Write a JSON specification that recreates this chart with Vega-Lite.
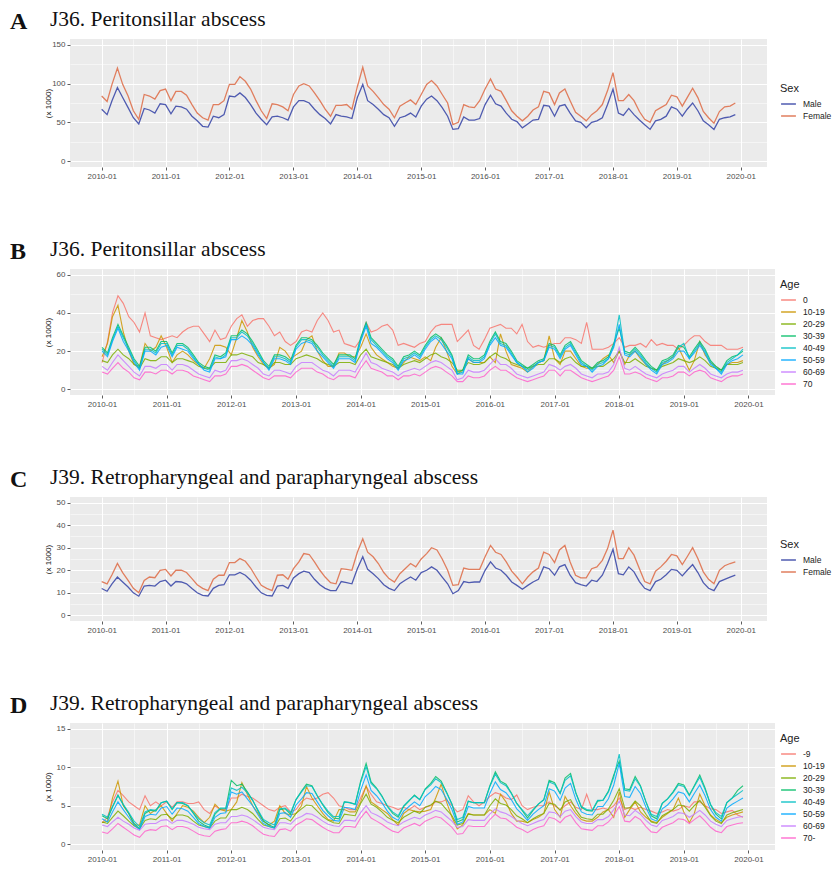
{
"$schema": "https://vega.github.io/schema/vega-lite/v6.json",
"background": "white",
"padding": {"left": 10, "top": 8, "right": 0, "bottom": 0},
"config": {
 "view": {"fill": "#EBEBEB", "stroke": null},
 "font": "Liberation Sans",
 "axis": {"domain": false, "gridColor": "#FFFFFF", "tickColor": "#333333", "tickSize": 3, "tickWidth": 0.8, "labelColor": "#4D4D4D", "labelFontSize": 8, "labelFont": "Liberation Sans", "labelPadding": 2, "titleFontWeight": "normal", "titleFontSize": 8, "titleColor": "#222222", "titleFont": "Liberation Sans"},
 "legend": {"orient": "none", "titleFontSize": 11, "titleFontWeight": "normal", "titleColor": "#222222", "titleFont": "Liberation Sans", "labelFont": "Liberation Sans", "labelFontSize": 8.5, "labelColor": "#222222", "symbolType": "stroke", "symbolStrokeWidth": 1.5, "symbolSize": 220, "clipHeight": 12, "rowPadding": 0, "titlePadding": 4, "labelOffset": 6},
 "title": {"font": "Liberation Serif", "fontWeight": "normal", "fontSize": 21.5, "color": "#111111", "anchor": "start"}
},
"resolve": {"scale": {"color": "independent"}, "legend": {"color": "independent"}},
"datasets": {
 "A": [
  {"d":"2010-01","Male":67,"Female":84},{"d":"2010-02","Male":60,"Female":77},{"d":"2010-03","Male":78,"Female":99},{"d":"2010-04","Male":95,"Female":120},{"d":"2010-05","Male":82,"Female":99},{"d":"2010-06","Male":69,"Female":84},{"d":"2010-07","Male":56,"Female":65},{"d":"2010-08","Male":48,"Female":54},{"d":"2010-09","Male":68,"Female":86},{"d":"2010-10","Male":66,"Female":84},{"d":"2010-11","Male":62,"Female":80},{"d":"2010-12","Male":74,"Female":91},
  {"d":"2011-01","Male":73,"Female":93},{"d":"2011-02","Male":61,"Female":78},{"d":"2011-03","Male":71,"Female":90},{"d":"2011-04","Male":70,"Female":90},{"d":"2011-05","Male":67,"Female":85},{"d":"2011-06","Male":58,"Female":73},{"d":"2011-07","Male":52,"Female":62},{"d":"2011-08","Male":45,"Female":56},{"d":"2011-09","Male":44,"Female":53},{"d":"2011-10","Male":58,"Female":73},{"d":"2011-11","Male":56,"Female":73},{"d":"2011-12","Male":60,"Female":78},
  {"d":"2012-01","Male":84,"Female":99},{"d":"2012-02","Male":83,"Female":99},{"d":"2012-03","Male":88,"Female":109},{"d":"2012-04","Male":82,"Female":103},{"d":"2012-05","Male":73,"Female":93},{"d":"2012-06","Male":62,"Female":78},{"d":"2012-07","Male":54,"Female":65},{"d":"2012-08","Male":47,"Female":55},{"d":"2012-09","Male":57,"Female":74},{"d":"2012-10","Male":58,"Female":73},{"d":"2012-11","Male":56,"Female":70},{"d":"2012-12","Male":53,"Female":65},
  {"d":"2013-01","Male":70,"Female":86},{"d":"2013-02","Male":78,"Female":97},{"d":"2013-03","Male":78,"Female":100},{"d":"2013-04","Male":75,"Female":97},{"d":"2013-05","Male":67,"Female":88},{"d":"2013-06","Male":60,"Female":78},{"d":"2013-07","Male":55,"Female":67},{"d":"2013-08","Male":48,"Female":58},{"d":"2013-09","Male":60,"Female":72},{"d":"2013-10","Male":58,"Female":72},{"d":"2013-11","Male":57,"Female":73},{"d":"2013-12","Male":55,"Female":67},
  {"d":"2014-01","Male":82,"Female":96},{"d":"2014-02","Male":99,"Female":121},{"d":"2014-03","Male":78,"Female":97},{"d":"2014-04","Male":73,"Female":90},{"d":"2014-05","Male":67,"Female":82},{"d":"2014-06","Male":60,"Female":73},{"d":"2014-07","Male":56,"Female":67},{"d":"2014-08","Male":45,"Female":56},{"d":"2014-09","Male":56,"Female":71},{"d":"2014-10","Male":58,"Female":75},{"d":"2014-11","Male":62,"Female":79},{"d":"2014-12","Male":57,"Female":73},
  {"d":"2015-01","Male":71,"Female":86},{"d":"2015-02","Male":80,"Female":99},{"d":"2015-03","Male":84,"Female":104},{"d":"2015-04","Male":78,"Female":97},{"d":"2015-05","Male":69,"Female":86},{"d":"2015-06","Male":58,"Female":75},{"d":"2015-07","Male":41,"Female":47},{"d":"2015-08","Male":42,"Female":50},{"d":"2015-09","Male":57,"Female":73},{"d":"2015-10","Male":53,"Female":70},{"d":"2015-11","Male":53,"Female":69},{"d":"2015-12","Male":55,"Female":78},
  {"d":"2016-01","Male":73,"Female":93},{"d":"2016-02","Male":85,"Female":106},{"d":"2016-03","Male":74,"Female":93},{"d":"2016-04","Male":71,"Female":90},{"d":"2016-05","Male":62,"Female":78},{"d":"2016-06","Male":54,"Female":65},{"d":"2016-07","Male":51,"Female":58},{"d":"2016-08","Male":43,"Female":52},{"d":"2016-09","Male":48,"Female":58},{"d":"2016-10","Male":53,"Female":66},{"d":"2016-11","Male":54,"Female":70},{"d":"2016-12","Male":72,"Female":90},
  {"d":"2017-01","Male":71,"Female":88},{"d":"2017-02","Male":58,"Female":73},{"d":"2017-03","Male":71,"Female":88},{"d":"2017-04","Male":73,"Female":93},{"d":"2017-05","Male":62,"Female":78},{"d":"2017-06","Male":52,"Female":63},{"d":"2017-07","Male":50,"Female":58},{"d":"2017-08","Male":43,"Female":52},{"d":"2017-09","Male":50,"Female":60},{"d":"2017-10","Male":52,"Female":65},{"d":"2017-11","Male":56,"Female":73},{"d":"2017-12","Male":73,"Female":91},
  {"d":"2018-01","Male":93,"Female":114},{"d":"2018-02","Male":62,"Female":78},{"d":"2018-03","Male":59,"Female":78},{"d":"2018-04","Male":68,"Female":86},{"d":"2018-05","Male":60,"Female":78},{"d":"2018-06","Male":53,"Female":64},{"d":"2018-07","Male":47,"Female":54},{"d":"2018-08","Male":41,"Female":50},{"d":"2018-09","Male":52,"Female":65},{"d":"2018-10","Male":54,"Female":69},{"d":"2018-11","Male":58,"Female":73},{"d":"2018-12","Male":70,"Female":85},
  {"d":"2019-01","Male":67,"Female":83},{"d":"2019-02","Male":58,"Female":71},{"d":"2019-03","Male":67,"Female":82},{"d":"2019-04","Male":75,"Female":94},{"d":"2019-05","Male":65,"Female":82},{"d":"2019-06","Male":52,"Female":64},{"d":"2019-07","Male":47,"Female":56},{"d":"2019-08","Male":41,"Female":49},{"d":"2019-09","Male":54,"Female":64},{"d":"2019-10","Male":56,"Female":70},{"d":"2019-11","Male":57,"Female":71},{"d":"2019-12","Male":60,"Female":75}
 ],
 "C": [
  {"d":"2010-01","Male":11.9,"Female":15},{"d":"2010-02","Male":10.7,"Female":14},{"d":"2010-03","Male":14,"Female":18},{"d":"2010-04","Male":17,"Female":23},{"d":"2010-05","Male":14.8,"Female":19},{"d":"2010-06","Male":12.6,"Female":15.5},{"d":"2010-07","Male":10,"Female":12},{"d":"2010-08","Male":8.5,"Female":10},{"d":"2010-09","Male":13,"Female":15.5},{"d":"2010-10","Male":13.3,"Female":17},{"d":"2010-11","Male":13,"Female":16.7},{"d":"2010-12","Male":15,"Female":20},
  {"d":"2011-01","Male":15.6,"Female":20.4},{"d":"2011-02","Male":13,"Female":17.5},{"d":"2011-03","Male":15,"Female":20},{"d":"2011-04","Male":14.8,"Female":20},{"d":"2011-05","Male":14,"Female":19},{"d":"2011-06","Male":11.9,"Female":16.3},{"d":"2011-07","Male":10,"Female":13.6},{"d":"2011-08","Male":8.9,"Female":12},{"d":"2011-09","Male":8.6,"Female":11},{"d":"2011-10","Male":12,"Female":16},{"d":"2011-11","Male":13.3,"Female":17.8},{"d":"2011-12","Male":13.6,"Female":17.8},
  {"d":"2012-01","Male":18,"Female":23.4},{"d":"2012-02","Male":18,"Female":23.4},{"d":"2012-03","Male":19,"Female":25.2},{"d":"2012-04","Male":17.8,"Female":24},{"d":"2012-05","Male":15.6,"Female":21},{"d":"2012-06","Male":12.6,"Female":17},{"d":"2012-07","Male":10,"Female":13.3},{"d":"2012-08","Male":8.9,"Female":12},{"d":"2012-09","Male":8.6,"Female":11},{"d":"2012-10","Male":13,"Female":17.8},{"d":"2012-11","Male":13.3,"Female":18},{"d":"2012-12","Male":12,"Female":16},
  {"d":"2013-01","Male":16.6,"Female":20.7},{"d":"2013-02","Male":18.5,"Female":23.7},{"d":"2013-03","Male":19.6,"Female":27.4},{"d":"2013-04","Male":19,"Female":27},{"d":"2013-05","Male":16,"Female":23.7},{"d":"2013-06","Male":13.6,"Female":20},{"d":"2013-07","Male":12,"Female":17},{"d":"2013-08","Male":11,"Female":14.5},{"d":"2013-09","Male":11,"Female":14},{"d":"2013-10","Male":15,"Female":20.7},{"d":"2013-11","Male":14.5,"Female":20.4},{"d":"2013-12","Male":14,"Female":20},
  {"d":"2014-01","Male":20.7,"Female":28},{"d":"2014-02","Male":26,"Female":34},{"d":"2014-03","Male":20.4,"Female":28},{"d":"2014-04","Male":18.5,"Female":26},{"d":"2014-05","Male":16.3,"Female":23},{"d":"2014-06","Male":13.6,"Female":19},{"d":"2014-07","Male":12,"Female":16.3},{"d":"2014-08","Male":11,"Female":14.8},{"d":"2014-09","Male":14,"Female":18.5},{"d":"2014-10","Male":15.6,"Female":20.7},{"d":"2014-11","Male":17,"Female":23},{"d":"2014-12","Male":15.6,"Female":21.5},
  {"d":"2015-01","Male":19,"Female":25},{"d":"2015-02","Male":20,"Female":27.4},{"d":"2015-03","Male":21.5,"Female":30},{"d":"2015-04","Male":20,"Female":29},{"d":"2015-05","Male":17,"Female":25},{"d":"2015-06","Male":14,"Female":20},{"d":"2015-07","Male":9.6,"Female":13.3},{"d":"2015-08","Male":11,"Female":13.6},{"d":"2015-09","Male":15,"Female":21},{"d":"2015-10","Male":14.5,"Female":20.4},{"d":"2015-11","Male":14.8,"Female":20.4},{"d":"2015-12","Male":14.8,"Female":20.4},
  {"d":"2016-01","Male":20,"Female":26},{"d":"2016-02","Male":23.7,"Female":31},{"d":"2016-03","Male":21,"Female":28},{"d":"2016-04","Male":20,"Female":27},{"d":"2016-05","Male":17.8,"Female":23.7},{"d":"2016-06","Male":14.8,"Female":19.6},{"d":"2016-07","Male":13.3,"Female":17},{"d":"2016-08","Male":11.6,"Female":14},{"d":"2016-09","Male":13.3,"Female":17},{"d":"2016-10","Male":14.8,"Female":19.3},{"d":"2016-11","Male":16,"Female":21},{"d":"2016-12","Male":21.5,"Female":28},
  {"d":"2017-01","Male":20.7,"Female":27},{"d":"2017-02","Male":17.8,"Female":23.4},{"d":"2017-03","Male":21.5,"Female":29},{"d":"2017-04","Male":22.5,"Female":31},{"d":"2017-05","Male":17.8,"Female":23.7},{"d":"2017-06","Male":14.5,"Female":17.8},{"d":"2017-07","Male":13.6,"Female":16.6},{"d":"2017-08","Male":13,"Female":16.6},{"d":"2017-09","Male":15.6,"Female":20.7},{"d":"2017-10","Male":15,"Female":21.5},{"d":"2017-11","Male":17.8,"Female":24.4},{"d":"2017-12","Male":23,"Female":29.6},
  {"d":"2018-01","Male":29.3,"Female":37.8},{"d":"2018-02","Male":18.5,"Female":25.2},{"d":"2018-03","Male":18,"Female":25.2},{"d":"2018-04","Male":21.5,"Female":30},{"d":"2018-05","Male":19.3,"Female":26.7},{"d":"2018-06","Male":15,"Female":20.7},{"d":"2018-07","Male":12,"Female":15},{"d":"2018-08","Male":11,"Female":14},{"d":"2018-09","Male":15,"Female":19.6},{"d":"2018-10","Male":16,"Female":21.5},{"d":"2018-11","Male":18,"Female":24},{"d":"2018-12","Male":20.4,"Female":27},
  {"d":"2019-01","Male":20,"Female":26.4},{"d":"2019-02","Male":17.5,"Female":22.5},{"d":"2019-03","Male":20,"Female":26},{"d":"2019-04","Male":22.5,"Female":30},{"d":"2019-05","Male":19,"Female":25.2},{"d":"2019-06","Male":14.5,"Female":19.3},{"d":"2019-07","Male":12,"Female":16},{"d":"2019-08","Male":11,"Female":14},{"d":"2019-09","Male":15,"Female":20},{"d":"2019-10","Male":16,"Female":22},{"d":"2019-11","Male":17,"Female":23},{"d":"2019-12","Male":17.8,"Female":23.7}
 ],
 "B": [
  {"d":"2010-01","0":14,"10-19":17,"20-29":15,"30-39":22,"40-49":21,"50-59":20,"60-69":12,"70":9},
  {"d":"2010-02","0":25,"10-19":24,"20-29":14,"30-39":19,"40-49":18,"50-59":17,"60-69":10,"70":8},
  {"d":"2010-03","0":40,"10-19":38,"20-29":18,"30-39":27,"40-49":26,"50-59":25,"60-69":14,"70":11},
  {"d":"2010-04","0":49,"10-19":44,"20-29":21,"30-39":34,"40-49":33,"50-59":32,"60-69":18,"70":14},
  {"d":"2010-05","0":45,"10-19":30,"20-29":18,"30-39":28,"40-49":27,"50-59":25,"60-69":15,"70":11},
  {"d":"2010-06","0":38,"10-19":20,"20-29":16,"30-39":22,"40-49":21,"50-59":20,"60-69":12,"70":9},
  {"d":"2010-07","0":35,"10-19":13,"20-29":13,"30-39":16,"40-49":15,"50-59":14,"60-69":9,"70":6},
  {"d":"2010-08","0":30,"10-19":12,"20-29":11,"30-39":12,"40-49":11,"50-59":10,"60-69":7,"70":5},
  {"d":"2010-09","0":40,"10-19":24,"20-29":16,"30-39":22,"40-49":21,"50-59":20,"60-69":12,"70":9},
  {"d":"2010-10","0":28,"10-19":20,"20-29":15,"30-39":22,"40-49":21,"50-59":20,"60-69":12,"70":9},
  {"d":"2010-11","0":27,"10-19":22,"20-29":15,"30-39":20,"40-49":19,"50-59":18,"60-69":11,"70":8},
  {"d":"2010-12","0":26,"10-19":28,"20-29":17,"30-39":25,"40-49":24,"50-59":22,"60-69":13,"70":10},
  {"d":"2011-01","0":27,"10-19":22,"20-29":17,"30-39":25,"40-49":24,"50-59":23,"60-69":13,"70":10},
  {"d":"2011-02","0":28,"10-19":14,"20-29":14,"30-39":19,"40-49":18,"50-59":17,"60-69":10,"70":8},
  {"d":"2011-03","0":27,"10-19":18,"20-29":16,"30-39":24,"40-49":23,"50-59":22,"60-69":13,"70":10},
  {"d":"2011-04","0":30,"10-19":20,"20-29":16,"30-39":24,"40-49":23,"50-59":21,"60-69":13,"70":10},
  {"d":"2011-05","0":32,"10-19":18,"20-29":15,"30-39":22,"40-49":21,"50-59":20,"60-69":12,"70":9},
  {"d":"2011-06","0":33,"10-19":15,"20-29":14,"30-39":18,"40-49":17,"50-59":16,"60-69":10,"70":7},
  {"d":"2011-07","0":33,"10-19":13,"20-29":12,"30-39":14,"40-49":13,"50-59":13,"60-69":8,"70":6},
  {"d":"2011-08","0":29,"10-19":11,"20-29":11,"30-39":12,"40-49":11,"50-59":10,"60-69":7,"70":5},
  {"d":"2011-09","0":25,"10-19":16,"20-29":11,"30-39":11,"40-49":10,"50-59":9,"60-69":6,"70":4},
  {"d":"2011-10","0":31,"10-19":23,"20-29":14,"30-39":18,"40-49":17,"50-59":16,"60-69":10,"70":7},
  {"d":"2011-11","0":26,"10-19":23,"20-29":14,"30-39":17,"40-49":16,"50-59":16,"60-69":9,"70":7},
  {"d":"2011-12","0":27,"10-19":22,"20-29":14,"30-39":19,"40-49":18,"50-59":17,"60-69":10,"70":8},
  {"d":"2012-01","0":33,"10-19":18,"20-29":18,"30-39":28,"40-49":27,"50-59":26,"60-69":15,"70":12},
  {"d":"2012-02","0":37,"10-19":27,"20-29":18,"30-39":28,"40-49":27,"50-59":26,"60-69":15,"70":12},
  {"d":"2012-03","0":39,"10-19":36,"20-29":19,"30-39":31,"40-49":30,"50-59":28,"60-69":16,"70":13},
  {"d":"2012-04","0":33,"10-19":30,"20-29":18,"30-39":29,"40-49":28,"50-59":26,"60-69":15,"70":12},
  {"d":"2012-05","0":36,"10-19":22,"20-29":17,"30-39":25,"40-49":24,"50-59":23,"60-69":13,"70":10},
  {"d":"2012-06","0":37,"10-19":17,"20-29":14,"30-39":20,"40-49":19,"50-59":18,"60-69":11,"70":8},
  {"d":"2012-07","0":37,"10-19":13,"20-29":13,"30-39":15,"40-49":14,"50-59":14,"60-69":8,"70":6},
  {"d":"2012-08","0":33,"10-19":11,"20-29":11,"30-39":12,"40-49":11,"50-59":10,"60-69":7,"70":5},
  {"d":"2012-09","0":28,"10-19":13,"20-29":14,"30-39":18,"40-49":17,"50-59":16,"60-69":10,"70":7},
  {"d":"2012-10","0":30,"10-19":22,"20-29":14,"30-39":18,"40-49":17,"50-59":16,"60-69":10,"70":7},
  {"d":"2012-11","0":25,"10-19":20,"20-29":13,"30-39":17,"40-49":16,"50-59":15,"60-69":9,"70":7},
  {"d":"2012-12","0":23,"10-19":16,"20-29":13,"30-39":15,"40-49":14,"50-59":13,"60-69":8,"70":6},
  {"d":"2013-01","0":25,"10-19":18,"20-29":16,"30-39":23,"40-49":22,"50-59":21,"60-69":12,"70":9},
  {"d":"2013-02","0":30,"10-19":20,"20-29":17,"30-39":27,"40-49":26,"50-59":24,"60-69":14,"70":11},
  {"d":"2013-03","0":31,"10-19":26,"20-29":18,"30-39":27,"40-49":26,"50-59":25,"60-69":14,"70":11},
  {"d":"2013-04","0":30,"10-19":28,"20-29":17,"30-39":26,"40-49":25,"50-59":24,"60-69":14,"70":11},
  {"d":"2013-05","0":36,"10-19":20,"20-29":16,"30-39":23,"40-49":22,"50-59":20,"60-69":12,"70":9},
  {"d":"2013-06","0":40,"10-19":15,"20-29":14,"30-39":19,"40-49":18,"50-59":17,"60-69":10,"70":8},
  {"d":"2013-07","0":36,"10-19":12,"20-29":13,"30-39":16,"40-49":15,"50-59":14,"60-69":9,"70":6},
  {"d":"2013-08","0":30,"10-19":12,"20-29":12,"30-39":13,"40-49":12,"50-59":11,"60-69":7,"70":5},
  {"d":"2013-09","0":31,"10-19":19,"20-29":14,"30-39":18,"40-49":17,"50-59":16,"60-69":10,"70":7},
  {"d":"2013-10","0":24,"10-19":19,"20-29":14,"30-39":18,"40-49":17,"50-59":16,"60-69":10,"70":7},
  {"d":"2013-11","0":23,"10-19":17,"20-29":14,"30-39":18,"40-49":17,"50-59":16,"60-69":10,"70":7},
  {"d":"2013-12","0":22,"10-19":17,"20-29":13,"30-39":16,"40-49":15,"50-59":14,"60-69":9,"70":6},
  {"d":"2014-01","0":26,"10-19":22,"20-29":18,"30-39":27,"40-49":26,"50-59":25,"60-69":14,"70":11},
  {"d":"2014-02","0":35,"10-19":29,"20-29":21,"30-39":35,"40-49":34,"50-59":33,"60-69":19,"70":15},
  {"d":"2014-03","0":30,"10-19":22,"20-29":17,"30-39":27,"40-49":26,"50-59":24,"60-69":14,"70":11},
  {"d":"2014-04","0":31,"10-19":18,"20-29":16,"30-39":24,"40-49":23,"50-59":22,"60-69":13,"70":10},
  {"d":"2014-05","0":33,"10-19":16,"20-29":15,"30-39":21,"40-49":20,"50-59":19,"60-69":11,"70":9},
  {"d":"2014-06","0":34,"10-19":14,"20-29":14,"30-39":18,"40-49":17,"50-59":16,"60-69":10,"70":7},
  {"d":"2014-07","0":31,"10-19":12,"20-29":13,"30-39":16,"40-49":15,"50-59":14,"60-69":9,"70":7},
  {"d":"2014-08","0":23,"10-19":11,"20-29":11,"30-39":12,"40-49":11,"50-59":10,"60-69":7,"70":5},
  {"d":"2014-09","0":24,"10-19":14,"20-29":13,"30-39":17,"40-49":16,"50-59":15,"60-69":9,"70":7},
  {"d":"2014-10","0":23,"10-19":17,"20-29":14,"30-39":18,"40-49":17,"50-59":16,"60-69":10,"70":7},
  {"d":"2014-11","0":22,"10-19":16,"20-29":15,"30-39":20,"40-49":19,"50-59":18,"60-69":11,"70":8},
  {"d":"2014-12","0":24,"10-19":15,"20-29":14,"30-39":18,"40-49":17,"50-59":16,"60-69":10,"70":7},
  {"d":"2015-01","0":25,"10-19":17,"20-29":16,"30-39":23,"40-49":22,"50-59":21,"60-69":12,"70":9},
  {"d":"2015-02","0":30,"10-19":15,"20-29":18,"30-39":27,"40-49":26,"50-59":25,"60-69":14,"70":11},
  {"d":"2015-03","0":33,"10-19":22,"20-29":19,"30-39":29,"40-49":28,"50-59":27,"60-69":15,"70":12},
  {"d":"2015-04","0":34,"10-19":27,"20-29":17,"30-39":27,"40-49":26,"50-59":24,"60-69":14,"70":11},
  {"d":"2015-05","0":34,"10-19":20,"20-29":16,"30-39":23,"40-49":22,"50-59":20,"60-69":12,"70":9},
  {"d":"2015-06","0":34,"10-19":12,"20-29":14,"30-39":18,"40-49":17,"50-59":16,"60-69":10,"70":7},
  {"d":"2015-07","0":25,"10-19":8,"20-29":10,"30-39":9,"40-49":8,"50-59":8,"60-69":5,"70":4},
  {"d":"2015-08","0":28,"10-19":10,"20-29":10,"30-39":10,"40-49":9,"50-59":8,"60-69":6,"70":4},
  {"d":"2015-09","0":31,"10-19":16,"20-29":14,"30-39":18,"40-49":17,"50-59":16,"60-69":10,"70":7},
  {"d":"2015-10","0":23,"10-19":14,"20-29":13,"30-39":16,"40-49":15,"50-59":14,"60-69":9,"70":6},
  {"d":"2015-11","0":21,"10-19":14,"20-29":13,"30-39":16,"40-49":15,"50-59":14,"60-69":9,"70":6},
  {"d":"2015-12","0":26,"10-19":14,"20-29":14,"30-39":18,"40-49":17,"50-59":16,"60-69":10,"70":7},
  {"d":"2016-01","0":32,"10-19":17,"20-29":17,"30-39":25,"40-49":24,"50-59":23,"60-69":13,"70":10},
  {"d":"2016-02","0":33,"10-19":14,"20-29":19,"30-39":30,"40-49":29,"50-59":27,"60-69":16,"70":12},
  {"d":"2016-03","0":34,"10-19":29,"20-29":17,"30-39":25,"40-49":24,"50-59":23,"60-69":13,"70":10},
  {"d":"2016-04","0":32,"10-19":20,"20-29":16,"30-39":24,"40-49":23,"50-59":22,"60-69":13,"70":10},
  {"d":"2016-05","0":32,"10-19":13,"20-29":14,"30-39":20,"40-49":19,"50-59":18,"60-69":11,"70":8},
  {"d":"2016-06","0":29,"10-19":12,"20-29":13,"30-39":15,"40-49":14,"50-59":14,"60-69":8,"70":6},
  {"d":"2016-07","0":34,"10-19":11,"20-29":12,"30-39":13,"40-49":12,"50-59":12,"60-69":7,"70":5},
  {"d":"2016-08","0":25,"10-19":9,"20-29":11,"30-39":11,"40-49":10,"50-59":9,"60-69":6,"70":4},
  {"d":"2016-09","0":22,"10-19":12,"20-29":12,"30-39":13,"40-49":12,"50-59":11,"60-69":7,"70":5},
  {"d":"2016-10","0":23,"10-19":14,"20-29":13,"30-39":15,"40-49":14,"50-59":14,"60-69":8,"70":6},
  {"d":"2016-11","0":22,"10-19":15,"20-29":13,"30-39":16,"40-49":15,"50-59":15,"60-69":9,"70":7},
  {"d":"2016-12","0":23,"10-19":28,"20-29":16,"30-39":24,"40-49":23,"50-59":22,"60-69":13,"70":10},
  {"d":"2017-01","0":24,"10-19":16,"20-29":16,"30-39":23,"40-49":22,"50-59":21,"60-69":12,"70":10},
  {"d":"2017-02","0":24,"10-19":13,"20-29":14,"30-39":18,"40-49":17,"50-59":16,"60-69":10,"70":7},
  {"d":"2017-03","0":27,"10-19":20,"20-29":16,"30-39":23,"40-49":22,"50-59":21,"60-69":12,"70":10},
  {"d":"2017-04","0":27,"10-19":20,"20-29":17,"30-39":25,"40-49":24,"50-59":23,"60-69":13,"70":10},
  {"d":"2017-05","0":26,"10-19":16,"20-29":14,"30-39":20,"40-49":19,"50-59":18,"60-69":11,"70":8},
  {"d":"2017-06","0":24,"10-19":12,"20-29":12,"30-39":15,"40-49":14,"50-59":13,"60-69":8,"70":6},
  {"d":"2017-07","0":35,"10-19":11,"20-29":12,"30-39":13,"40-49":12,"50-59":12,"60-69":7,"70":5},
  {"d":"2017-08","0":21,"10-19":11,"20-29":11,"30-39":11,"40-49":10,"50-59":9,"60-69":6,"70":4},
  {"d":"2017-09","0":21,"10-19":13,"20-29":12,"30-39":14,"40-49":13,"50-59":12,"60-69":8,"70":5},
  {"d":"2017-10","0":21,"10-19":16,"20-29":12,"30-39":15,"40-49":14,"50-59":13,"60-69":8,"70":6},
  {"d":"2017-11","0":22,"10-19":18,"20-29":14,"30-39":17,"40-49":16,"50-59":16,"60-69":9,"70":7},
  {"d":"2017-12","0":24,"10-19":14,"20-29":16,"30-39":24,"40-49":23,"50-59":22,"60-69":13,"70":10},
  {"d":"2018-01","0":27,"10-19":20,"20-29":20,"30-39":32,"40-49":39,"50-59":34,"60-69":22,"70":17},
  {"d":"2018-02","0":22,"10-19":13,"20-29":14,"30-39":20,"40-49":19,"50-59":18,"60-69":11,"70":8},
  {"d":"2018-03","0":23,"10-19":18,"20-29":14,"30-39":19,"40-49":18,"50-59":17,"60-69":10,"70":8},
  {"d":"2018-04","0":23,"10-19":20,"20-29":16,"30-39":22,"40-49":21,"50-59":20,"60-69":12,"70":9},
  {"d":"2018-05","0":24,"10-19":16,"20-29":14,"30-39":19,"40-49":18,"50-59":17,"60-69":10,"70":8},
  {"d":"2018-06","0":22,"10-19":13,"20-29":12,"30-39":15,"40-49":14,"50-59":13,"60-69":8,"70":6},
  {"d":"2018-07","0":26,"10-19":11,"20-29":11,"30-39":12,"40-49":11,"50-59":10,"60-69":7,"70":5},
  {"d":"2018-08","0":23,"10-19":10,"20-29":10,"30-39":10,"40-49":9,"50-59":8,"60-69":6,"70":4},
  {"d":"2018-09","0":24,"10-19":13,"20-29":12,"30-39":15,"40-49":14,"50-59":13,"60-69":8,"70":6},
  {"d":"2018-10","0":23,"10-19":15,"20-29":13,"30-39":16,"40-49":15,"50-59":14,"60-69":9,"70":6},
  {"d":"2018-11","0":23,"10-19":17,"20-29":14,"30-39":18,"40-49":17,"50-59":16,"60-69":10,"70":7},
  {"d":"2018-12","0":21,"10-19":22,"20-29":16,"30-39":23,"40-49":22,"50-59":20,"60-69":12,"70":9},
  {"d":"2019-01","0":23,"10-19":16,"20-29":15,"30-39":22,"40-49":24,"50-59":20,"60-69":12,"70":9},
  {"d":"2019-02","0":26,"10-19":10,"20-29":14,"30-39":17,"40-49":16,"50-59":16,"60-69":9,"70":7},
  {"d":"2019-03","0":28,"10-19":15,"20-29":15,"30-39":21,"40-49":20,"50-59":19,"60-69":11,"70":9},
  {"d":"2019-04","0":28,"10-19":25,"20-29":17,"30-39":25,"40-49":24,"50-59":23,"60-69":13,"70":10},
  {"d":"2019-05","0":25,"10-19":18,"20-29":15,"30-39":21,"40-49":20,"50-59":19,"60-69":11,"70":9},
  {"d":"2019-06","0":23,"10-19":14,"20-29":12,"30-39":15,"40-49":14,"50-59":13,"60-69":8,"70":6},
  {"d":"2019-07","0":23,"10-19":12,"20-29":11,"30-39":12,"40-49":11,"50-59":11,"60-69":7,"70":5},
  {"d":"2019-08","0":23,"10-19":10,"20-29":10,"30-39":10,"40-49":9,"50-59":8,"60-69":6,"70":4},
  {"d":"2019-09","0":21,"10-19":13,"20-29":13,"30-39":15,"40-49":14,"50-59":13,"60-69":8,"70":6},
  {"d":"2019-10","0":21,"10-19":14,"20-29":13,"30-39":17,"40-49":16,"50-59":15,"60-69":9,"70":7},
  {"d":"2019-11","0":21,"10-19":14,"20-29":13,"30-39":18,"40-49":18,"50-59":16,"60-69":9,"70":7},
  {"d":"2019-12","0":22,"10-19":15,"20-29":14,"30-39":20,"40-49":21,"50-59":18,"60-69":10,"70":8}
 ],
 "D": [
  {"d":"2010-01","-9":2.8,"10-19":2.8,"20-29":2.9,"30-39":3.7,"40-49":3.9,"50-59":3.3,"60-69":2.5,"70-":1.6},
  {"d":"2010-02","-9":3.5,"10-19":3.0,"20-29":2.7,"30-39":3.3,"40-49":3.5,"50-59":2.9,"60-69":2.3,"70-":1.4},
  {"d":"2010-03","-9":5.5,"10-19":6.0,"20-29":3.5,"30-39":4.8,"40-49":4.9,"50-59":4.2,"60-69":2.9,"70-":2.0},
  {"d":"2010-04","-9":7.0,"10-19":8.2,"20-29":4.3,"30-39":6.4,"40-49":6.3,"50-59":5.5,"60-69":3.5,"70-":2.7},
  {"d":"2010-05","-9":6.3,"10-19":5.0,"20-29":3.7,"30-39":5.1,"40-49":5.2,"50-59":4.5,"60-69":3.0,"70-":2.2},
  {"d":"2010-06","-9":5.5,"10-19":4.0,"20-29":3.0,"30-39":4.0,"40-49":4.1,"50-59":3.5,"60-69":2.6,"70-":1.7},
  {"d":"2010-07","-9":5.0,"10-19":2.5,"20-29":2.4,"30-39":2.7,"40-49":3.0,"50-59":2.5,"60-69":2.1,"70-":1.2},
  {"d":"2010-08","-9":4.5,"10-19":2.5,"20-29":2.0,"30-39":2.0,"40-49":2.3,"50-59":1.9,"60-69":1.8,"70-":0.9},
  {"d":"2010-09","-9":6.3,"10-19":5.0,"20-29":3.1,"30-39":4.0,"40-49":4.2,"50-59":3.6,"60-69":2.6,"70-":1.7},
  {"d":"2010-10","-9":5.0,"10-19":4.0,"20-29":3.3,"30-39":4.4,"40-49":4.5,"50-59":3.9,"60-69":2.7,"70-":1.9},
  {"d":"2010-11","-9":5.5,"10-19":4.5,"20-29":3.2,"30-39":4.3,"40-49":4.4,"50-59":3.8,"60-69":2.7,"70-":1.8},
  {"d":"2010-12","-9":5.0,"10-19":5.0,"20-29":3.8,"30-39":5.4,"40-49":5.4,"50-59":4.7,"60-69":3.1,"70-":2.3},
  {"d":"2011-01","-9":5.5,"10-19":4.0,"20-29":3.9,"30-39":5.6,"40-49":5.6,"50-59":4.9,"60-69":3.2,"70-":2.4},
  {"d":"2011-02","-9":4.8,"10-19":3.0,"20-29":3.3,"30-39":4.5,"40-49":4.6,"50-59":3.9,"60-69":2.7,"70-":1.9},
  {"d":"2011-03","-9":5.5,"10-19":4.0,"20-29":3.8,"30-39":5.4,"40-49":5.4,"50-59":4.7,"60-69":3.1,"70-":2.3},
  {"d":"2011-04","-9":5.5,"10-19":5.0,"20-29":3.8,"30-39":5.3,"40-49":5.4,"50-59":4.6,"60-69":3.1,"70-":2.3},
  {"d":"2011-05","-9":5.3,"10-19":4.8,"20-29":3.6,"30-39":5.0,"40-49":5.0,"50-59":4.3,"60-69":2.9,"70-":2.1},
  {"d":"2011-06","-9":5.3,"10-19":4.3,"20-29":3.0,"30-39":4.0,"40-49":4.1,"50-59":3.5,"60-69":2.6,"70-":1.7},
  {"d":"2011-07","-9":5.5,"10-19":3.5,"20-29":2.5,"30-39":3.0,"40-49":3.3,"50-59":2.7,"60-69":2.2,"70-":1.3},
  {"d":"2011-08","-9":4.5,"10-19":2.8,"20-29":2.3,"30-39":2.5,"40-49":2.8,"50-59":2.3,"60-69":2.0,"70-":1.1},
  {"d":"2011-09","-9":4.0,"10-19":3.5,"20-29":2.1,"30-39":2.2,"40-49":2.5,"50-59":2.1,"60-69":1.9,"70-":1.0},
  {"d":"2011-10","-9":5.0,"10-19":5.2,"20-29":3.0,"30-39":3.9,"40-49":4.1,"50-59":3.5,"60-69":2.6,"70-":1.7},
  {"d":"2011-11","-9":4.5,"10-19":4.5,"20-29":3.4,"30-39":4.6,"40-49":4.7,"50-59":4.0,"60-69":2.8,"70-":1.9},
  {"d":"2011-12","-9":4.5,"10-19":4.3,"20-29":3.4,"30-39":4.6,"40-49":4.7,"50-59":4.1,"60-69":2.8,"70-":2.0},
  {"d":"2012-01","-9":6.0,"10-19":4.5,"20-29":4.5,"30-39":8.3,"40-49":7.3,"50-59":6.8,"60-69":3.6,"70-":2.8},
  {"d":"2012-02","-9":6.0,"10-19":5.5,"20-29":4.5,"30-39":7.6,"40-49":7.0,"50-59":6.5,"60-69":3.6,"70-":2.8},
  {"d":"2012-03","-9":6.5,"10-19":8.0,"20-29":4.8,"30-39":7.8,"40-49":7.4,"50-59":6.8,"60-69":3.8,"70-":3.0},
  {"d":"2012-04","-9":6.2,"10-19":6.5,"20-29":4.5,"30-39":6.8,"40-49":6.7,"50-59":5.9,"60-69":3.6,"70-":2.8},
  {"d":"2012-05","-9":6.0,"10-19":5.0,"20-29":4.0,"30-39":5.7,"40-49":5.7,"50-59":5.0,"60-69":3.2,"70-":2.4},
  {"d":"2012-06","-9":5.5,"10-19":4.0,"20-29":3.2,"30-39":4.3,"40-49":4.4,"50-59":3.8,"60-69":2.7,"70-":1.8},
  {"d":"2012-07","-9":5.0,"10-19":3.0,"20-29":2.5,"30-39":3.0,"40-49":3.2,"50-59":2.7,"60-69":2.2,"70-":1.3},
  {"d":"2012-08","-9":4.5,"10-19":2.5,"20-29":2.3,"30-39":2.5,"40-49":2.8,"50-59":2.3,"60-69":2.0,"70-":1.1},
  {"d":"2012-09","-9":4.3,"10-19":3.0,"20-29":2.1,"30-39":2.2,"40-49":2.5,"50-59":2.1,"60-69":1.9,"70-":1.0},
  {"d":"2012-10","-9":4.8,"10-19":5.0,"20-29":3.3,"30-39":4.5,"40-49":4.6,"50-59":4.0,"60-69":2.8,"70-":1.9},
  {"d":"2012-11","-9":5.0,"10-19":4.0,"20-29":3.4,"30-39":4.6,"40-49":4.7,"50-59":4.1,"60-69":2.8,"70-":2.0},
  {"d":"2012-12","-9":4.2,"10-19":3.8,"20-29":3.0,"30-39":3.9,"40-49":4.1,"50-59":3.5,"60-69":2.6,"70-":1.7},
  {"d":"2013-01","-9":4.5,"10-19":4.0,"20-29":4.0,"30-39":5.8,"40-49":5.8,"50-59":5.1,"60-69":3.3,"70-":2.5},
  {"d":"2013-02","-9":5.5,"10-19":5.0,"20-29":4.6,"30-39":6.9,"40-49":6.8,"50-59":5.9,"60-69":3.6,"70-":2.9},
  {"d":"2013-03","-9":6.0,"10-19":7.5,"20-29":5.1,"30-39":7.8,"40-49":7.6,"50-59":6.7,"60-69":4.0,"70-":3.3},
  {"d":"2013-04","-9":5.8,"10-19":6.0,"20-29":5.0,"30-39":7.6,"40-49":7.5,"50-59":6.6,"60-69":3.9,"70-":3.2},
  {"d":"2013-05","-9":6.0,"10-19":5.0,"20-29":4.3,"30-39":6.3,"40-49":6.3,"50-59":5.5,"60-69":3.5,"70-":2.7},
  {"d":"2013-06","-9":6.5,"10-19":4.0,"20-29":3.6,"30-39":5.1,"40-49":5.2,"50-59":4.4,"60-69":3.0,"70-":2.2},
  {"d":"2013-07","-9":6.7,"10-19":3.2,"20-29":3.1,"30-39":4.1,"40-49":4.3,"50-59":3.7,"60-69":2.6,"70-":1.8},
  {"d":"2013-08","-9":6.0,"10-19":3.0,"20-29":2.8,"30-39":3.4,"40-49":3.6,"50-59":3.1,"60-69":2.4,"70-":1.5},
  {"d":"2013-09","-9":5.0,"10-19":4.5,"20-29":2.7,"30-39":3.3,"40-49":3.6,"50-59":3.0,"60-69":2.3,"70-":1.5},
  {"d":"2013-10","-9":4.8,"10-19":4.5,"20-29":3.9,"30-39":5.5,"40-49":5.5,"50-59":4.8,"60-69":3.1,"70-":2.3},
  {"d":"2013-11","-9":4.5,"10-19":4.2,"20-29":3.8,"30-39":5.4,"40-49":5.4,"50-59":4.7,"60-69":3.1,"70-":2.3},
  {"d":"2013-12","-9":4.5,"10-19":4.2,"20-29":3.7,"30-39":5.2,"40-49":5.2,"50-59":4.5,"60-69":3.0,"70-":2.2},
  {"d":"2014-01","-9":6.0,"10-19":5.5,"20-29":5.3,"30-39":8.2,"40-49":8.0,"50-59":7.0,"60-69":4.1,"70-":3.4},
  {"d":"2014-02","-9":7.5,"10-19":7.6,"20-29":6.5,"30-39":10.5,"40-49":10.1,"50-59":9.0,"60-69":5.0,"70-":4.3},
  {"d":"2014-03","-9":6.5,"10-19":5.5,"20-29":5.2,"30-39":8.1,"40-49":7.9,"50-59":7.0,"60-69":4.1,"70-":3.4},
  {"d":"2014-04","-9":5.5,"10-19":5.0,"20-29":4.8,"30-39":7.3,"40-49":7.2,"50-59":6.3,"60-69":3.8,"70-":3.0},
  {"d":"2014-05","-9":5.3,"10-19":4.5,"20-29":4.2,"30-39":6.3,"40-49":6.2,"50-59":5.4,"60-69":3.4,"70-":2.6},
  {"d":"2014-06","-9":5.0,"10-19":4.0,"20-29":3.5,"30-39":4.9,"40-49":5.0,"50-59":4.3,"60-69":2.9,"70-":2.1},
  {"d":"2014-07","-9":4.8,"10-19":3.2,"20-29":3.1,"30-39":4.0,"40-49":4.2,"50-59":3.5,"60-69":2.6,"70-":1.7},
  {"d":"2014-08","-9":4.5,"10-19":2.5,"20-29":2.8,"30-39":3.5,"40-49":3.7,"50-59":3.1,"60-69":2.4,"70-":1.5},
  {"d":"2014-09","-9":4.8,"10-19":4.0,"20-29":3.5,"30-39":4.9,"40-49":5.0,"50-59":4.3,"60-69":2.9,"70-":2.1},
  {"d":"2014-10","-9":4.5,"10-19":4.5,"20-29":3.9,"30-39":5.6,"40-49":5.7,"50-59":4.9,"60-69":3.2,"70-":2.4},
  {"d":"2014-11","-9":5.0,"10-19":4.3,"20-29":4.3,"30-39":6.4,"40-49":6.3,"50-59":5.5,"60-69":3.5,"70-":2.7},
  {"d":"2014-12","-9":4.5,"10-19":4.2,"20-29":4.0,"30-39":5.8,"40-49":5.8,"50-59":5.0,"60-69":3.3,"70-":2.4},
  {"d":"2015-01","-9":4.8,"10-19":4.3,"20-29":4.8,"30-39":7.2,"40-49":7.1,"50-59":6.2,"60-69":3.8,"70-":3.0},
  {"d":"2015-02","-9":5.0,"10-19":4.5,"20-29":5.1,"30-39":7.9,"40-49":7.7,"50-59":6.8,"60-69":4.1,"70-":3.3},
  {"d":"2015-03","-9":5.5,"10-19":6.0,"20-29":5.6,"30-39":8.8,"40-49":8.5,"50-59":7.5,"60-69":4.4,"70-":3.6},
  {"d":"2015-04","-9":5.5,"10-19":7.8,"20-29":5.3,"30-39":8.2,"40-49":8.0,"50-59":7.1,"60-69":4.2,"70-":3.4},
  {"d":"2015-05","-9":5.8,"10-19":5.5,"20-29":4.5,"30-39":6.8,"40-49":6.7,"50-59":5.9,"60-69":3.6,"70-":2.8},
  {"d":"2015-06","-9":5.0,"10-19":3.5,"20-29":3.7,"30-39":5.2,"40-49":5.2,"50-59":4.5,"60-69":3.0,"70-":2.2},
  {"d":"2015-07","-9":4.2,"10-19":2.0,"20-29":2.5,"30-39":2.9,"40-49":3.2,"50-59":2.6,"60-69":2.2,"70-":1.3},
  {"d":"2015-08","-9":4.5,"10-19":2.5,"20-29":2.7,"30-39":3.2,"40-49":3.5,"50-59":2.9,"60-69":2.3,"70-":1.4},
  {"d":"2015-09","-9":6.3,"10-19":4.0,"20-29":3.9,"30-39":5.6,"40-49":5.6,"50-59":4.9,"60-69":3.2,"70-":2.4},
  {"d":"2015-10","-9":5.5,"10-19":3.8,"20-29":3.8,"30-39":5.4,"40-49":5.4,"50-59":4.7,"60-69":3.1,"70-":2.3},
  {"d":"2015-11","-9":5.0,"10-19":3.8,"20-29":3.8,"30-39":5.4,"40-49":5.4,"50-59":4.7,"60-69":3.1,"70-":2.3},
  {"d":"2015-12","-9":5.5,"10-19":3.8,"20-29":3.8,"30-39":5.4,"40-49":5.4,"50-59":4.7,"60-69":3.1,"70-":2.3},
  {"d":"2016-01","-9":6.2,"10-19":4.5,"20-29":5.0,"30-39":7.6,"40-49":7.5,"50-59":6.6,"60-69":3.9,"70-":3.2},
  {"d":"2016-02","-9":6.7,"10-19":4.0,"20-29":5.9,"30-39":9.4,"40-49":9.1,"50-59":8.1,"60-69":4.6,"70-":3.9},
  {"d":"2016-03","-9":6.5,"10-19":6.5,"20-29":5.3,"30-39":8.2,"40-49":8.0,"50-59":7.1,"60-69":4.2,"70-":3.4},
  {"d":"2016-04","-9":6.0,"10-19":5.5,"20-29":5.1,"30-39":7.8,"40-49":7.6,"50-59":6.7,"60-69":4.0,"70-":3.3},
  {"d":"2016-05","-9":5.8,"10-19":4.0,"20-29":4.5,"30-39":6.7,"40-49":6.6,"50-59":5.8,"60-69":3.6,"70-":2.8},
  {"d":"2016-06","-9":6.4,"10-19":3.0,"20-29":3.7,"30-39":5.3,"40-49":5.3,"50-59":4.6,"60-69":3.1,"70-":2.2},
  {"d":"2016-07","-9":5.0,"10-19":3.0,"20-29":3.3,"30-39":4.4,"40-49":4.5,"50-59":3.9,"60-69":2.7,"70-":1.9},
  {"d":"2016-08","-9":4.5,"10-19":2.8,"20-29":2.8,"30-39":3.4,"40-49":3.7,"50-59":3.1,"60-69":2.4,"70-":1.5},
  {"d":"2016-09","-9":4.8,"10-19":3.2,"20-29":3.3,"30-39":4.4,"40-49":4.5,"50-59":3.9,"60-69":2.7,"70-":1.9},
  {"d":"2016-10","-9":5.0,"10-19":3.5,"20-29":3.7,"30-39":5.2,"40-49":5.2,"50-59":4.5,"60-69":3.0,"70-":2.2},
  {"d":"2016-11","-9":5.0,"10-19":4.0,"20-29":4.0,"30-39":5.8,"40-49":5.8,"50-59":5.0,"60-69":3.2,"70-":2.4},
  {"d":"2016-12","-9":5.5,"10-19":6.8,"20-29":5.3,"30-39":8.3,"40-49":8.1,"50-59":7.2,"60-69":4.2,"70-":3.5},
  {"d":"2017-01","-9":5.0,"10-19":4.5,"20-29":5.2,"30-39":8.0,"40-49":7.8,"50-59":6.9,"60-69":4.1,"70-":3.3},
  {"d":"2017-02","-9":4.5,"10-19":3.5,"20-29":4.4,"30-39":6.6,"40-49":6.6,"50-59":5.7,"60-69":3.6,"70-":2.8},
  {"d":"2017-03","-9":5.0,"10-19":6.2,"20-29":5.5,"30-39":8.6,"40-49":8.3,"50-59":7.3,"60-69":4.3,"70-":3.5},
  {"d":"2017-04","-9":5.5,"10-19":5.0,"20-29":5.8,"30-39":9.2,"40-49":8.9,"50-59":7.9,"60-69":4.5,"70-":3.8},
  {"d":"2017-05","-9":4.8,"10-19":4.0,"20-29":4.5,"30-39":6.7,"40-49":6.6,"50-59":5.8,"60-69":3.6,"70-":2.8},
  {"d":"2017-06","-9":4.5,"10-19":3.2,"20-29":3.5,"30-39":4.8,"40-49":4.9,"50-59":4.2,"60-69":2.9,"70-":2.0},
  {"d":"2017-07","-9":6.5,"10-19":3.0,"20-29":3.3,"30-39":4.4,"40-49":4.5,"50-59":3.9,"60-69":2.7,"70-":1.9},
  {"d":"2017-08","-9":4.5,"10-19":3.0,"20-29":3.2,"30-39":4.3,"40-49":4.4,"50-59":3.8,"60-69":2.7,"70-":1.8},
  {"d":"2017-09","-9":4.5,"10-19":3.5,"20-29":3.9,"30-39":5.6,"40-49":5.7,"50-59":4.9,"60-69":3.2,"70-":2.4},
  {"d":"2017-10","-9":4.7,"10-19":4.2,"20-29":3.9,"30-39":5.7,"40-49":5.7,"50-59":4.9,"60-69":3.2,"70-":2.4},
  {"d":"2017-11","-9":4.5,"10-19":4.5,"20-29":4.6,"30-39":6.9,"40-49":6.8,"50-59":5.9,"60-69":3.6,"70-":2.9},
  {"d":"2017-12","-9":5.0,"10-19":3.5,"20-29":5.7,"30-39":9.0,"40-49":8.7,"50-59":7.7,"60-69":4.5,"70-":3.7},
  {"d":"2018-01","-9":6.0,"10-19":6.8,"20-29":7.2,"30-39":10.8,"40-49":11.7,"50-59":10.5,"60-69":5.6,"70-":4.9},
  {"d":"2018-02","-9":4.5,"10-19":3.5,"20-29":4.7,"30-39":7.2,"40-49":7.0,"50-59":6.2,"60-69":3.8,"70-":3.0},
  {"d":"2018-03","-9":4.8,"10-19":4.5,"20-29":4.7,"30-39":7.1,"40-49":6.9,"50-59":6.1,"60-69":3.7,"70-":2.9},
  {"d":"2018-04","-9":4.5,"10-19":5.5,"20-29":5.6,"30-39":8.8,"40-49":8.5,"50-59":7.5,"60-69":4.4,"70-":3.6},
  {"d":"2018-05","-9":4.8,"10-19":4.2,"20-29":5.0,"30-39":7.6,"40-49":7.5,"50-59":6.6,"60-69":3.9,"70-":3.2},
  {"d":"2018-06","-9":4.5,"10-19":3.5,"20-29":3.9,"30-39":5.5,"40-49":5.5,"50-59":4.8,"60-69":3.1,"70-":2.3},
  {"d":"2018-07","-9":4.3,"10-19":3.0,"20-29":2.9,"30-39":3.7,"40-49":3.9,"50-59":3.3,"60-69":2.5,"70-":1.6},
  {"d":"2018-08","-9":4.0,"10-19":2.8,"20-29":2.7,"30-39":3.3,"40-49":3.6,"50-59":3.0,"60-69":2.3,"70-":1.5},
  {"d":"2018-09","-9":4.2,"10-19":3.5,"20-29":3.7,"30-39":5.3,"40-49":5.3,"50-59":4.6,"60-69":3.1,"70-":2.2},
  {"d":"2018-10","-9":4.5,"10-19":4.0,"20-29":4.1,"30-39":5.9,"40-49":5.9,"50-59":5.1,"60-69":3.3,"70-":2.5},
  {"d":"2018-11","-9":4.3,"10-19":4.5,"20-29":4.5,"30-39":6.8,"40-49":6.7,"50-59":5.9,"60-69":3.6,"70-":2.8},
  {"d":"2018-12","-9":4.5,"10-19":6.0,"20-29":5.1,"30-39":7.9,"40-49":7.7,"50-59":6.8,"60-69":4.1,"70-":3.3},
  {"d":"2019-01","-9":5.0,"10-19":4.2,"20-29":5.0,"30-39":7.7,"40-49":7.5,"50-59":6.6,"60-69":4.0,"70-":3.2},
  {"d":"2019-02","-9":4.8,"10-19":2.8,"20-29":4.3,"30-39":6.4,"40-49":6.3,"50-59":5.5,"60-69":3.5,"70-":2.7},
  {"d":"2019-03","-9":5.5,"10-19":4.0,"20-29":5.0,"30-39":7.6,"40-49":7.5,"50-59":6.6,"60-69":3.9,"70-":3.2},
  {"d":"2019-04","-9":5.5,"10-19":6.5,"20-29":5.7,"30-39":9.0,"40-49":8.7,"50-59":7.7,"60-69":4.4,"70-":3.7},
  {"d":"2019-05","-9":5.0,"10-19":5.0,"20-29":4.8,"30-39":7.3,"40-49":7.1,"50-59":6.3,"60-69":3.8,"70-":3.0},
  {"d":"2019-06","-9":4.6,"10-19":3.8,"20-29":3.7,"30-39":5.1,"40-49":5.2,"50-59":4.5,"60-69":3.0,"70-":2.2},
  {"d":"2019-07","-9":4.5,"10-19":3.2,"20-29":3.0,"30-39":3.9,"40-49":4.1,"50-59":3.5,"60-69":2.6,"70-":1.7},
  {"d":"2019-08","-9":4.0,"10-19":2.8,"20-29":2.7,"30-39":3.3,"40-49":3.6,"50-59":3.0,"60-69":2.3,"70-":1.5},
  {"d":"2019-09","-9":4.2,"10-19":3.5,"20-29":3.8,"30-39":5.4,"40-49":5.4,"50-59":4.7,"60-69":3.1,"70-":2.3},
  {"d":"2019-10","-9":4.4,"10-19":3.8,"20-29":4.1,"30-39":6.0,"40-49":6.0,"50-59":5.2,"60-69":3.3,"70-":2.5},
  {"d":"2019-11","-9":3.8,"10-19":4.0,"20-29":4.3,"30-39":7.0,"40-49":6.5,"50-59":5.6,"60-69":3.5,"70-":2.7},
  {"d":"2019-12","-9":3.5,"10-19":4.2,"20-29":4.5,"30-39":7.6,"40-49":7.0,"50-59":6.0,"60-69":3.6,"70-":2.8}
 ]
},
"spacing": 58,
"vconcat": [
 {
  "title": {"text": "A", "font": "Liberation Serif", "fontWeight": "bold", "fontSize": 24, "offset": -25, "dx": -34},
  "vconcat": [{
   "width": 697, "height": 128,
   "title": {"text": "J36. Peritonsillar abscess", "dx": 6, "offset": 9},
   "data": {"name": "A"},
   "transform": [{"fold": ["Male", "Female"], "as": ["Sex", "value"]}],
   "mark": {"type": "line", "strokeWidth": 1.3},
   "encoding": {
    "x": {"field": "d", "type": "temporal", "title": null,
     "scale": {"type": "utc", "domain": [{"year": 2009, "month": 7, "date": 4, "utc": true}, {"year": 2020, "month": 5, "date": 30, "utc": true}]},
     "axis": {"values": [{"year":2010,"month":1,"utc":true},{"year":2010,"month":7,"utc":true},{"year":2011,"month":1,"utc":true},{"year":2011,"month":7,"utc":true},{"year":2012,"month":1,"utc":true},{"year":2012,"month":7,"utc":true},{"year":2013,"month":1,"utc":true},{"year":2013,"month":7,"utc":true},{"year":2014,"month":1,"utc":true},{"year":2014,"month":7,"utc":true},{"year":2015,"month":1,"utc":true},{"year":2015,"month":7,"utc":true},{"year":2016,"month":1,"utc":true},{"year":2016,"month":7,"utc":true},{"year":2017,"month":1,"utc":true},{"year":2017,"month":7,"utc":true},{"year":2018,"month":1,"utc":true},{"year":2018,"month":7,"utc":true},{"year":2019,"month":1,"utc":true},{"year":2019,"month":7,"utc":true},{"year":2020,"month":1,"utc":true}],
      "labelExpr": "utcmonth(datum.value) == 0 ? utcFormat(datum.value, '%Y-%m') : ''",
      "labelOverlap": false, "labelFlush": false,
      "gridWidth": {"condition": {"test": "utcmonth(datum.value) == 0", "value": 1.1}, "value": 0.5},
      "tickOpacity": {"condition": {"test": "utcmonth(datum.value) == 0", "value": 1}, "value": 0}}},
    "y": {"field": "value", "type": "quantitative", "title": "(x 1000)",
     "scale": {"domain": [-7.5, 157.5], "nice": false, "zero": false},
     "axis": {"values": [0, 25, 50, 75, 100, 125, 150], "labelExpr": "datum.value % 50 == 0 ? datum.label : ''",
      "gridWidth": {"condition": {"test": "datum.value % 50 == 0", "value": 1.1}, "value": 0.5},
      "tickOpacity": {"condition": {"test": "datum.value % 50 == 0", "value": 1}, "value": 0},
      "minExtent": 16, "maxExtent": 16, "titlePadding": 2}},
    "color": {"field": "Sex", "type": "nominal",
     "scale": {"domain": ["Male", "Female"], "range": ["#4F5BB0", "#E07E5E"]},
     "legend": {"title": "Sex", "orient": "none", "legendX": 710, "legendY": 44}}
   }
  }]
 },
 {
  "title": {"text": "B", "font": "Liberation Serif", "fontWeight": "bold", "fontSize": 24, "offset": -25, "dx": -34},
  "vconcat": [{
   "width": 705, "height": 126,
   "title": {"text": "J36. Peritonsillar abscess", "dx": 6, "offset": 9},
   "data": {"name": "B"},
   "transform": [{"fold": ["0", "10-19", "20-29", "30-39", "40-49", "50-59", "60-69", "70"], "as": ["Age", "value"]}],
   "mark": {"type": "line", "strokeWidth": 1.1, "opacity": 0.85},
   "encoding": {
    "x": {"field": "d", "type": "temporal", "title": null,
     "scale": {"type": "utc", "domain": [{"year": 2009, "month": 7, "date": 4, "utc": true}, {"year": 2020, "month": 5, "date": 30, "utc": true}]},
     "axis": {"values": [{"year":2010,"month":1,"utc":true},{"year":2010,"month":7,"utc":true},{"year":2011,"month":1,"utc":true},{"year":2011,"month":7,"utc":true},{"year":2012,"month":1,"utc":true},{"year":2012,"month":7,"utc":true},{"year":2013,"month":1,"utc":true},{"year":2013,"month":7,"utc":true},{"year":2014,"month":1,"utc":true},{"year":2014,"month":7,"utc":true},{"year":2015,"month":1,"utc":true},{"year":2015,"month":7,"utc":true},{"year":2016,"month":1,"utc":true},{"year":2016,"month":7,"utc":true},{"year":2017,"month":1,"utc":true},{"year":2017,"month":7,"utc":true},{"year":2018,"month":1,"utc":true},{"year":2018,"month":7,"utc":true},{"year":2019,"month":1,"utc":true},{"year":2019,"month":7,"utc":true},{"year":2020,"month":1,"utc":true}],
      "labelExpr": "utcmonth(datum.value) == 0 ? utcFormat(datum.value, '%Y-%m') : ''",
      "labelOverlap": false, "labelFlush": false,
      "gridWidth": {"condition": {"test": "utcmonth(datum.value) == 0", "value": 1.1}, "value": 0.5},
      "tickOpacity": {"condition": {"test": "utcmonth(datum.value) == 0", "value": 1}, "value": 0}}},
    "y": {"field": "value", "type": "quantitative", "title": "(x 1000)",
     "scale": {"domain": [-3, 63], "nice": false, "zero": false},
     "axis": {"values": [0, 10, 20, 30, 40, 50, 60], "labelExpr": "datum.value % 20 == 0 ? datum.label : ''",
      "gridWidth": {"condition": {"test": "datum.value % 20 == 0", "value": 1.1}, "value": 0.5},
      "tickOpacity": {"condition": {"test": "datum.value % 20 == 0", "value": 1}, "value": 0},
      "minExtent": 16, "maxExtent": 16, "titlePadding": 2}},
    "color": {"field": "Age", "type": "nominal",
     "scale": {"domain": ["0", "10-19", "20-29", "30-39", "40-49", "50-59", "60-69", "70"], "range": ["#F8766D", "#CD9600", "#7CAE00", "#00BE67", "#00BFC4", "#00A9FF", "#C77CFF", "#FF61CC"]},
     "legend": {"title": "Age", "orient": "none", "legendX": 710, "legendY": 10}}
   }
  }]
 },
 {
  "title": {"text": "C", "font": "Liberation Serif", "fontWeight": "bold", "fontSize": 24, "offset": -25, "dx": -34},
  "vconcat": [{
   "width": 697, "height": 124,
   "title": {"text": "J39. Retropharyngeal and parapharyngeal abscess", "dx": 6, "offset": 9},
   "data": {"name": "C"},
   "transform": [{"fold": ["Male", "Female"], "as": ["Sex", "value"]}],
   "mark": {"type": "line", "strokeWidth": 1.3},
   "encoding": {
    "x": {"field": "d", "type": "temporal", "title": null,
     "scale": {"type": "utc", "domain": [{"year": 2009, "month": 7, "date": 4, "utc": true}, {"year": 2020, "month": 5, "date": 30, "utc": true}]},
     "axis": {"values": [{"year":2010,"month":1,"utc":true},{"year":2010,"month":7,"utc":true},{"year":2011,"month":1,"utc":true},{"year":2011,"month":7,"utc":true},{"year":2012,"month":1,"utc":true},{"year":2012,"month":7,"utc":true},{"year":2013,"month":1,"utc":true},{"year":2013,"month":7,"utc":true},{"year":2014,"month":1,"utc":true},{"year":2014,"month":7,"utc":true},{"year":2015,"month":1,"utc":true},{"year":2015,"month":7,"utc":true},{"year":2016,"month":1,"utc":true},{"year":2016,"month":7,"utc":true},{"year":2017,"month":1,"utc":true},{"year":2017,"month":7,"utc":true},{"year":2018,"month":1,"utc":true},{"year":2018,"month":7,"utc":true},{"year":2019,"month":1,"utc":true},{"year":2019,"month":7,"utc":true},{"year":2020,"month":1,"utc":true}],
      "labelExpr": "utcmonth(datum.value) == 0 ? utcFormat(datum.value, '%Y-%m') : ''",
      "labelOverlap": false, "labelFlush": false,
      "gridWidth": {"condition": {"test": "utcmonth(datum.value) == 0", "value": 1.1}, "value": 0.5},
      "tickOpacity": {"condition": {"test": "utcmonth(datum.value) == 0", "value": 1}, "value": 0}}},
    "y": {"field": "value", "type": "quantitative", "title": "(x 1000)",
     "scale": {"domain": [-2.5, 52.5], "nice": false, "zero": false},
     "axis": {"values": [0, 5, 10, 15, 20, 25, 30, 35, 40, 45, 50], "labelExpr": "datum.value % 10 == 0 ? datum.label : ''",
      "gridWidth": {"condition": {"test": "datum.value % 10 == 0", "value": 1.1}, "value": 0.5},
      "tickOpacity": {"condition": {"test": "datum.value % 10 == 0", "value": 1}, "value": 0},
      "minExtent": 16, "maxExtent": 16, "titlePadding": 2}},
    "color": {"field": "Sex", "type": "nominal",
     "scale": {"domain": ["Male", "Female"], "range": ["#4F5BB0", "#E07E5E"]},
     "legend": {"title": "Sex", "orient": "none", "legendX": 710, "legendY": 42}}
   }
  }]
 },
 {
  "title": {"text": "D", "font": "Liberation Serif", "fontWeight": "bold", "fontSize": 24, "offset": -25, "dx": -34},
  "vconcat": [{
   "width": 705, "height": 127,
   "title": {"text": "J39. Retropharyngeal and parapharyngeal abscess", "dx": 6, "offset": 9},
   "data": {"name": "D"},
   "transform": [{"fold": ["-9", "10-19", "20-29", "30-39", "40-49", "50-59", "60-69", "70-"], "as": ["Age", "value"]}],
   "mark": {"type": "line", "strokeWidth": 1.1, "opacity": 0.85},
   "encoding": {
    "x": {"field": "d", "type": "temporal", "title": null,
     "scale": {"type": "utc", "domain": [{"year": 2009, "month": 7, "date": 4, "utc": true}, {"year": 2020, "month": 5, "date": 30, "utc": true}]},
     "axis": {"values": [{"year":2010,"month":1,"utc":true},{"year":2010,"month":7,"utc":true},{"year":2011,"month":1,"utc":true},{"year":2011,"month":7,"utc":true},{"year":2012,"month":1,"utc":true},{"year":2012,"month":7,"utc":true},{"year":2013,"month":1,"utc":true},{"year":2013,"month":7,"utc":true},{"year":2014,"month":1,"utc":true},{"year":2014,"month":7,"utc":true},{"year":2015,"month":1,"utc":true},{"year":2015,"month":7,"utc":true},{"year":2016,"month":1,"utc":true},{"year":2016,"month":7,"utc":true},{"year":2017,"month":1,"utc":true},{"year":2017,"month":7,"utc":true},{"year":2018,"month":1,"utc":true},{"year":2018,"month":7,"utc":true},{"year":2019,"month":1,"utc":true},{"year":2019,"month":7,"utc":true},{"year":2020,"month":1,"utc":true}],
      "labelExpr": "utcmonth(datum.value) == 0 ? utcFormat(datum.value, '%Y-%m') : ''",
      "labelOverlap": false, "labelFlush": false,
      "gridWidth": {"condition": {"test": "utcmonth(datum.value) == 0", "value": 1.1}, "value": 0.5},
      "tickOpacity": {"condition": {"test": "utcmonth(datum.value) == 0", "value": 1}, "value": 0}}},
    "y": {"field": "value", "type": "quantitative", "title": "(x 1000)",
     "scale": {"domain": [-0.75, 15.75], "nice": false, "zero": false},
     "axis": {"values": [0, 2.5, 5, 7.5, 10, 12.5, 15], "labelExpr": "datum.value % 5 == 0 ? datum.label : ''",
      "gridWidth": {"condition": {"test": "datum.value % 5 == 0", "value": 1.1}, "value": 0.5},
      "tickOpacity": {"condition": {"test": "datum.value % 5 == 0", "value": 1}, "value": 0},
      "minExtent": 16, "maxExtent": 16, "titlePadding": 2}},
    "color": {"field": "Age", "type": "nominal",
     "scale": {"domain": ["-9", "10-19", "20-29", "30-39", "40-49", "50-59", "60-69", "70-"], "range": ["#F8766D", "#CD9600", "#7CAE00", "#00BE67", "#00BFC4", "#00A9FF", "#C77CFF", "#FF61CC"]},
     "legend": {"title": "Age", "orient": "none", "legendX": 710, "legendY": 10}}
   }
  }]
 }
]
}
